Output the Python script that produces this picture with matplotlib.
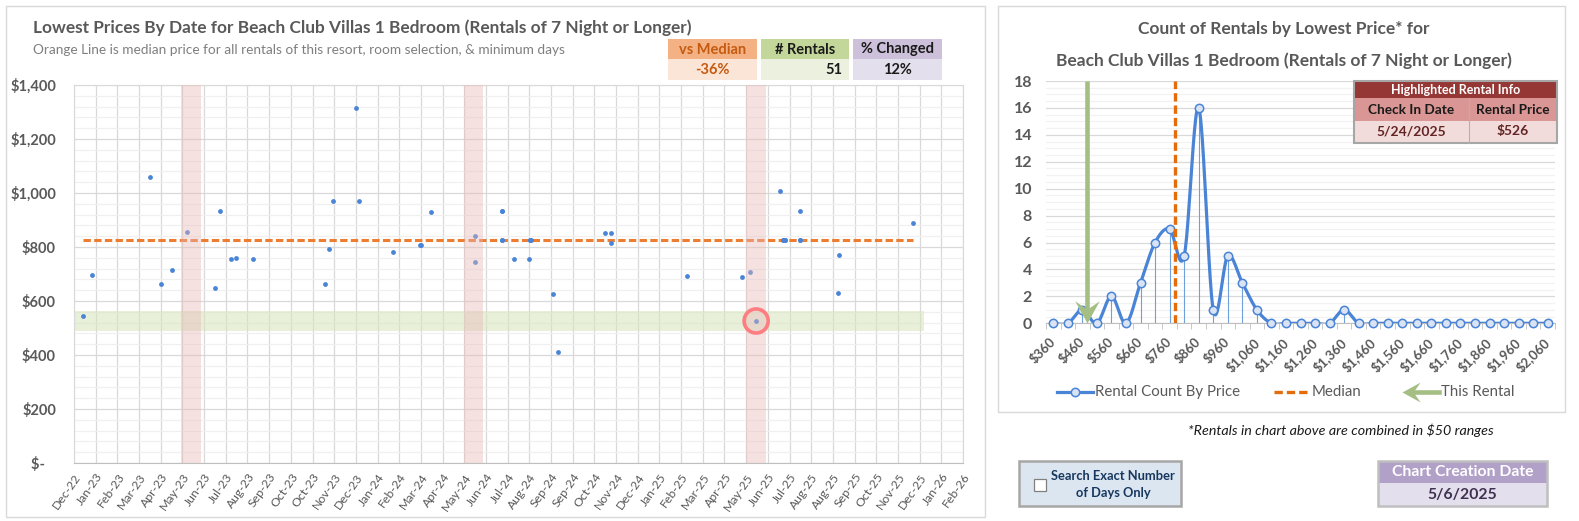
import numpy as np
import matplotlib
matplotlib.use("Agg")
import matplotlib.pyplot as plt
from matplotlib.patches import Rectangle
from matplotlib.path import Path

plt.rcParams["font.family"] = ["Lato", "DejaVu Sans"]

# ---- data: left chart (lowest price by check-in date) ----
x_labels = ["Dec-22", "Jan-23", "Feb-23", "Mar-23", "Apr-23", "May-23", "Jun-23", "Jul-23",
            "Aug-23", "Sep-23", "Oct-23", "Oct-23", "Nov-23", "Dec-23", "Jan-24", "Feb-24",
            "Mar-24", "Apr-24", "May-24", "Jun-24", "Jul-24", "Aug-24", "Sep-24", "Sep-24",
            "Oct-24", "Nov-24", "Dec-24", "Jan-25", "Feb-25", "Mar-25", "Apr-25", "May-25",
            "Jun-25", "Jul-25", "Aug-25", "Aug-25", "Sep-25", "Oct-25", "Nov-25", "Dec-25",
            "Jan-26", "Feb-26"]
# position along the date axis, in tick steps from Dec-22
rental_pos = [0.41, 0.83, 3.51, 4.01, 4.52, 5.22, 6.51, 6.74, 7.25, 7.48,
              8.26, 11.59, 11.77, 11.96, 13.02, 13.16, 14.73, 15.95, 15.99, 16.48,
              18.51, 18.51, 19.76, 19.76, 19.76, 19.76, 20.27, 21.00, 21.02, 21.05,
              21.08, 22.11, 22.30, 24.50, 24.75, 24.75, 28.25, 30.79, 31.16, 31.46,
              32.56, 32.72, 32.72, 32.78, 32.78, 33.49, 33.49, 33.49, 35.24, 35.29,
              38.70]
rental_price = [544, 696, 1058, 663, 715, 855, 649, 932, 757, 759,
                757, 663, 792, 969, 1313, 969, 781, 807, 807, 929,
                840, 744, 932, 932, 827, 827, 755, 755, 827, 827,
                827, 626, 411, 851, 851, 815, 692, 688, 706, 526,
                1007, 827, 827, 827, 827, 932, 827, 827, 630, 770,
                889]
median_price = 827
median_span = (0.41, 38.70)
highlight_pos = 31.46
highlight_price = 526
highlight_band = (489, 563)
highlight_band_end = 39.2
season_bands = [(4.94, 5.86), (18.00, 18.87), (31.00, 31.90)]

# ---- data: right chart (rentals per $50 price range) ----
bin_labels = list(range(360, 2061, 50))
bin_counts = [0, 0, 1, 0, 2, 0, 3, 6, 7, 5, 16, 1, 5, 3, 1, 0, 0, 0, 0, 0, 1,
              0, 0, 0, 0, 0, 0, 0, 0, 0, 0, 0, 0, 0, 0]

stats = [("vs Median", "-36%"), ("# Rentals", "51"), ("% Changed", "12%")]
check_in = "5/24/2025"
created = "5/6/2025"

W, H = 1579, 521
BLUE = "#4A84D6"
GREY = "#595959"
ORANGE = "#E46C0A"
GREEN = "#A5BE83"

fig = plt.figure(figsize=(W / 100, H / 100), dpi=100)


def px_axes(x0, y0, x1, y1):
    return fig.add_axes([x0 / W, 1 - y1 / H, (x1 - x0) / W, (y1 - y0) / H])


def smooth(xs, ys, n=24):
    # Bezier smoothing through the points, like Excel's smoothed line
    pts = np.column_stack([xs, ys]).astype(float)
    p = np.vstack([pts[0], pts, pts[-1]])
    t = np.linspace(0, 1, n, endpoint=False)[:, None]
    out = []
    for i in range(1, len(p) - 2):
        p0, p1, p2, p3 = p[i - 1], p[i], p[i + 1], p[i + 2]
        c1 = p1 + (p2 - p0) / 6
        c2 = p2 - (p3 - p1) / 6
        out.append((1 - t) ** 3 * p1 + 3 * (1 - t) ** 2 * t * c1 + 3 * (1 - t) * t ** 2 * c2 + t ** 3 * p2)
    out.append(pts[-1:])
    out = np.vstack(out)
    return out[:, 0], out[:, 1]


chev_down = Path([(0, 0), (-0.55, 1), (0, 0.62), (0.55, 1), (0, 0)],
                 [Path.MOVETO, Path.LINETO, Path.LINETO, Path.LINETO, Path.CLOSEPOLY])
chev_left = Path([(0, 0), (1, 0.55), (0.62, 0), (1, -0.55), (0, 0)],
                 [Path.MOVETO, Path.LINETO, Path.LINETO, Path.LINETO, Path.CLOSEPOLY])

# ---------------- left chart ----------------
ax = px_axes(74, 85, 963, 463)
ax.set_xlim(0, len(x_labels) - 1)
ax.set_ylim(0, 1400)
ax.set_axisbelow(True)
ax.set_xticks(range(len(x_labels)))
ax.set_xticklabels(x_labels, rotation=55, ha="right", va="top", rotation_mode="anchor",
                   fontsize=8.8, color=GREY)
yt = list(range(0, 1401, 200))
ax.set_yticks(yt)
ax.set_yticklabels(["$-   " if v == 0 else f"${v:,}" for v in yt], fontsize=10.5,
                   fontweight="bold", color=GREY)
ax.set_yticks(np.arange(0, 1401, 40), minor=True)
ax.tick_params(axis="both", which="both", length=0)
ax.tick_params(axis="y", pad=13)
ax.tick_params(axis="x", pad=6)
ax.grid(which="major", color="#D9D9D9", lw=0.9)
ax.grid(which="minor", axis="y", color="#F0F0F0", lw=0.9)
for s in ["top", "right", "left"]:
    ax.spines[s].set_color("#D9D9D9")
ax.spines["bottom"].set_color("#BFBFBF")

ax.axhspan(*highlight_band, xmin=0, xmax=highlight_band_end / (len(x_labels) - 1),
           color="#D8E4BC", alpha=0.55, lw=0, zorder=1)
ax.hlines(median_price, *median_span, colors="#ED7D31", lw=2.2, linestyles=(0, (2.4, 1.1)), zorder=2)
ax.scatter(rental_pos, rental_price, s=12, color=BLUE, zorder=3, lw=0)
for a, b in season_bands:
    ax.axvspan(a, b, color="#E6B8B7", alpha=0.42, lw=0, zorder=4)
ax.scatter([highlight_pos], [highlight_price], s=300, facecolor="none", edgecolor="#FF7C80",
           lw=2.6, zorder=5)

# ---------------- right chart ----------------
ax2 = px_axes(1046, 81, 1555, 323.3)
ax2.set_xlim(-0.5, len(bin_labels) - 0.5)
ax2.set_ylim(0, 18)
ax2.set_axisbelow(True)
idx = np.arange(len(bin_labels))
ax2.set_xticks(idx[::2])
ax2.set_xticklabels([f"${v:,}" for v in bin_labels[::2]], rotation=45, ha="right", va="center",
                    rotation_mode="anchor", fontsize=9.5, fontweight="bold", color=GREY)
ax2.set_xticks(np.arange(-0.5, len(bin_labels), 1), minor=True)
ax2.set_yticks(range(0, 19, 2))
ax2.set_yticklabels([str(v) for v in range(0, 19, 2)], fontsize=11.5, fontweight="bold", color=GREY)
ax2.set_yticks(np.arange(0, 18.01, 0.5), minor=True)
ax2.tick_params(axis="x", which="major", length=0, pad=12)
ax2.tick_params(axis="x", which="minor", length=4, color="#BFBFBF", direction="out")
ax2.tick_params(axis="y", which="both", length=0, pad=10)
ax2.grid(which="major", axis="y", color="#D9D9D9", lw=0.9)
ax2.grid(which="minor", axis="y", color="#F2F2F2", lw=0.9)
for s in ["top", "right", "left"]:
    ax2.spines[s].set_visible(False)
ax2.spines["bottom"].set_color("#BFBFBF")

ax2.vlines(idx, 0, bin_counts, colors="#6FA0DC", lw=0.8, zorder=2)
sx, sy = smooth(idx, bin_counts)
ax2.plot(sx, sy, color=BLUE, lw=2.3, zorder=3)
ax2.plot(idx, bin_counts, ls="none", marker="o", ms=6, mfc="#DAE3F3", mec=BLUE, mew=1.1,
         zorder=4, clip_on=False)

bin_w = bin_labels[1] - bin_labels[0]
med_x = (median_price - bin_labels[0]) / bin_w - 1
this_x = (highlight_price - bin_labels[0]) / bin_w - 1
ax2.vlines(med_x, 0, 18, colors=ORANGE, lw=2.4, linestyles=(0, (2.5, 1.2)), zorder=5)
ax2.vlines(this_x, 0.6, 18, colors=GREEN, lw=3.3, zorder=5)
ax2.plot(this_x, 0.05, marker=chev_down, ms=32, color=GREEN, mew=0, zorder=6, clip_on=False)

# ---------------- overlay: frames, titles, boxes ----------------
ov = fig.add_axes([0, 0, 1, 1], zorder=10)
ov.set_xlim(0, W)
ov.set_ylim(H, 0)
ov.axis("off")

ov.add_patch(Rectangle((6, 6), 979, 511, fill=False, ec="#D9D9D9", lw=1))
ov.add_patch(Rectangle((998, 6), 567, 406, fill=False, ec="#D9D9D9", lw=1))

ov.text(33, 28, "Lowest Prices By Date for Beach Club Villas 1 Bedroom (Rentals of 7 Night or Longer)",
        fontsize=12.4, fontweight="bold", color=GREY, va="center")
ov.text(33, 50, "Orange Line is median price for all rentals of this resort, room selection, & minimum days",
        fontsize=9.8, color="#7F7F7F", va="center")

box_x = [(668, 757), (761, 849), (853, 942)]
head_c = ["#F4B183", "#C4D79B", "#CCC0DA"]
val_c = ["#FBE5D6", "#EBF1DE", "#E4DFEC"]
head_tc = ["#C55A11", "#1A1A1A", "#1A1A1A"]
for (x0, x1), (head, val), hc, vc, tc in zip(box_x, stats, head_c, val_c, head_tc):
    ov.add_patch(Rectangle((x0, 39), x1 - x0, 20, fc=hc, ec="none"))
    ov.add_patch(Rectangle((x0, 59), x1 - x0, 21, fc=vc, ec="none"))
    ov.text((x0 + x1) / 2, 49.5, head, ha="center", va="center", fontsize=10.5,
            fontweight="bold", color=tc)
    if head == "# Rentals":
        ov.text(x1 - 7, 70, val, ha="right", va="center", fontsize=10.5, fontweight="bold", color=tc)
    else:
        ov.text((x0 + x1) / 2, 70, val, ha="center", va="center", fontsize=10.5,
                fontweight="bold", color=tc)

ov.text(1284, 29, "Count of Rentals by Lowest Price* for", ha="center", va="center",
        fontsize=12.5, fontweight="bold", color=GREY)
ov.text(1284, 61, "Beach Club Villas 1 Bedroom (Rentals of 7 Night or Longer)", ha="center",
        va="center", fontsize=12.5, fontweight="bold", color=GREY)

# highlighted rental table
tx0, tx1, tmid = 1354, 1557, 1469
ov.add_patch(Rectangle((tx0, 80.7), tx1 - tx0, 17.6, fc="#953735", ec="none"))
ov.add_patch(Rectangle((tx0, 98.3), tx1 - tx0, 22.7, fc="#DA9694", ec="none"))
ov.add_patch(Rectangle((tx0, 121), tx1 - tx0, 21.7, fc="#F2DCDB", ec="none"))
ov.plot([tmid, tmid], [98.3, 142.7], color="#C9A9A8", lw=0.8)
ov.add_patch(Rectangle((tx0, 80.7), tx1 - tx0, 62, fill=False, ec="#A6A6A6", lw=1.5))
ov.text((tx0 + tx1) / 2, 89.5, "Highlighted Rental Info", ha="center", va="center",
        fontsize=9, fontweight="bold", color="white")
ov.text((tx0 + tmid) / 2, 109.5, "Check In Date", ha="center", va="center", fontsize=9.8,
        fontweight="bold", color="#1A1A1A")
ov.text((tmid + tx1) / 2, 109.5, "Rental Price", ha="center", va="center", fontsize=9.8,
        fontweight="bold", color="#1A1A1A")
ov.text((tx0 + tmid) / 2, 131.5, check_in, ha="center", va="center", fontsize=10,
        fontweight="bold", color="#632523")
ov.text((tmid + tx1) / 2, 131.5, f"${highlight_price}", ha="center", va="center", fontsize=10,
        fontweight="bold", color="#632523")

# legend of right chart
ly = 392
ov.plot([1057, 1093], [ly, ly], color=BLUE, lw=2.3)
ov.plot([1075], [ly], marker="o", ms=6, mfc="#DAE3F3", mec=BLUE, mew=1.1)
ov.text(1095, ly, "Rental Count By Price", va="center", fontsize=10.8, color=GREY)
ov.plot([1274, 1309], [ly, ly], color=ORANGE, lw=2.4, ls=(0, (2.5, 1.2)))
ov.text(1312, ly, "Median", va="center", fontsize=10.8, color=GREY)
ov.plot([1410, 1439], [ly, ly], color=GREEN, lw=3.3)
ov.plot([1402], [ly], marker=chev_left, ms=26, color=GREEN, mew=0)
ov.text(1441, ly, "This Rental", va="center", fontsize=10.8, color=GREY)

ov.text(1341, 430, "*Rentals in chart above are combined in $50 ranges", ha="center",
        va="center", fontsize=10.3, style="italic", color="#1A1A1A")

# checkbox control
ov.add_patch(Rectangle((1019, 461), 162, 45, fc="#DCE6F1", ec="#A6A6A6", lw=1.8))
ov.add_patch(Rectangle((1034, 479), 12, 12, fc="white", ec="#808080", lw=0.9))
ov.text(1113, 476, "Search Exact Number", ha="center", va="center", fontsize=9.3,
        fontweight="bold", color="#17375E")
ov.text(1113, 493, "of Days Only", ha="center", va="center", fontsize=9.3,
        fontweight="bold", color="#17375E")

# chart creation date
ov.add_patch(Rectangle((1378, 461), 169, 22, fc="#B1A0C7", ec="none"))
ov.add_patch(Rectangle((1378, 483), 169, 23, fc="#E4DFEC", ec="none"))
ov.add_patch(Rectangle((1378, 461), 169, 45, fill=False, ec="#BFBFBF", lw=1.8))
ov.text(1462.5, 472, "Chart Creation Date", ha="center", va="center", fontsize=11.3,
        fontweight="bold", color="white")
ov.text(1462.5, 494.5, created, ha="center", va="center", fontsize=11.3,
        fontweight="bold", color="#3F3151")

fig.savefig("out.png", dpi=100)
